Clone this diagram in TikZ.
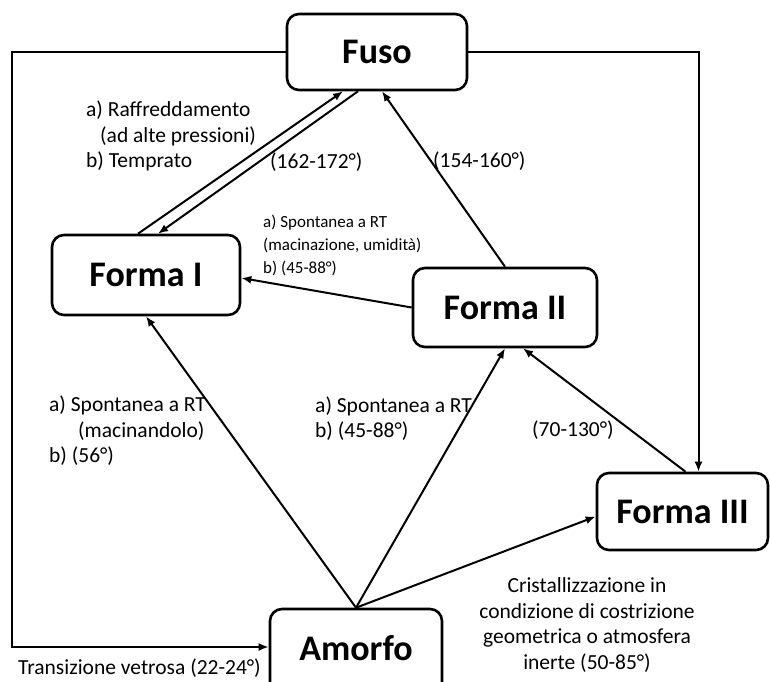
\documentclass[tikz,border=0pt]{standalone}
\usepackage{fontspec}
\setmainfont{Carlito}
\usetikzlibrary{arrows.meta, positioning}

\tikzset{
    stato/.style={draw, line width=2.6pt, rounded corners=12pt, font=\fontsize{36}{38}\selectfont\bfseries, inner sep=0pt},
    freccia/.style={line width=2pt, -{Latex[length=10pt,width=8pt]}},
    nota/.style={font=\fontsize{21.5}{25.5}\selectfont, inner sep=0pt, align=left},
    notina/.style={font=\fontsize{17}{23}\selectfont, inner sep=0pt, align=left}
}

\begin{document}
\begin{tikzpicture}[x=1pt, y=-1pt]
    \useasboundingbox (0,0) rectangle (770,681);

    % Stati
    \node[stato, minimum width=180pt, minimum height=76pt] (fuso) at (377,52) {Fuso};
    \node[stato, minimum width=188pt, minimum height=80pt] (formaI) at (146,275) {Forma I};
    \node[stato, minimum width=184pt, minimum height=79pt] (formaII) at (505,307.5) {Forma II};
    \node[stato, minimum width=171pt, minimum height=77pt] (formaIII) at (682.5,511.5) {Forma III};
    \node[stato, minimum width=172pt, minimum height=86pt, text depth=8pt] (amorfo) at (356,652) {Amorfo};

    % Percorsi esterni
    \coordinate (angolo) at (12,647);
    \draw[freccia] (fuso.west) -| (angolo) -- (angolo -| amorfo.west);
    \draw[freccia] (fuso.east) -| ([xshift=16]formaIII.north);

    % Transizioni
    \draw[freccia] ([xshift=-8]formaI.north) -- ([xshift=-34]fuso.south);
    \draw[freccia] ([xshift=-19]fuso.south) -- ([xshift=12]formaI.north);
    \draw[freccia] (formaII.north) -- ([xshift=5]fuso.south);
    \draw[freccia] (formaII.west) -- ([yshift=-3]formaI.east);
    \draw[freccia] (amorfo.north) -- (formaI.south);
    \draw[freccia] (amorfo.north) -- (formaII.south);
    \draw[freccia] (amorfo.north) -- ([yshift=-5]formaIII.west);
    \draw[freccia] ([xshift=3]formaIII.north) -- ([xshift=18]formaII.south);

    % Etichette
    \node[nota, anchor=west] (raff) at (86,136) {a) Raffreddamento\\\hspace*{14pt}(ad alte pressioni)\\b) Temprato};
    \node[nota, anchor=west] (t162) at (270,162) {(162-172°)};
    \node[nota, anchor=west] (t154) at (433,161) {(154-160°)};
    \node[notina, anchor=west] (spont21) at (263,245) {a) Spontanea a RT\\(macinazione, umidità)\\b) (45-88°)};
    \node[nota, anchor=west] (spont1) at (49,431) {a) Spontanea a RT\\\hspace*{29pt}(macinandolo)\\b) (56°)};
    \node[nota, anchor=west] (spont2) at (315,418.5) {a) Spontanea a RT\\b) (45-88°)};
    \node[nota, anchor=west] (t70) at (532,430) {(70-130°)};
    \node[nota, align=center] (crist) at (587,625) {Cristallizzazione in\\condizione di costrizione\\geometrica o atmosfera\\inerte (50-85°)};
    \node[nota, anchor=west] (vetro) at (18,668) {Transizione vetrosa (22-24°)};
\end{tikzpicture}
\end{document}
